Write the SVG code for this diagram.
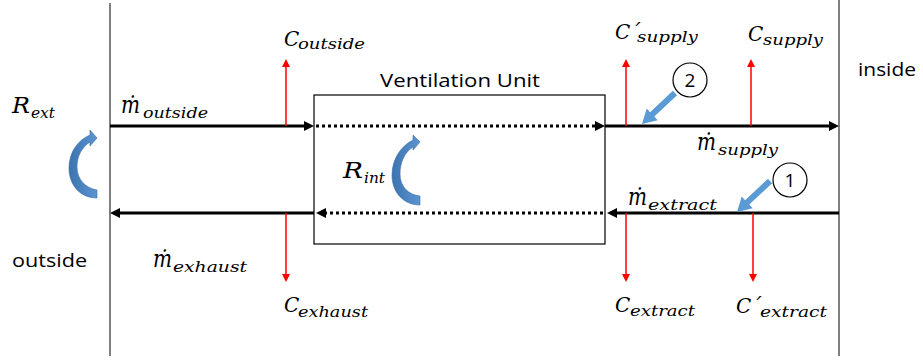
<svg xmlns="http://www.w3.org/2000/svg" width="923" height="360" viewBox="0 0 923 360">
<defs>
<style>
.frame{stroke:#000;stroke-width:1;fill:none}
.flow{stroke:#000;stroke-width:3;fill:none}
.dot{stroke:#000;stroke-width:3;fill:none;stroke-dasharray:3 3}
.conc{stroke:#ff0000;stroke-width:1.5;fill:none}
.m{font-family:"DejaVu Serif",serif;font-style:italic;font-size:20px;fill:#000}
.r{font-family:"DejaVu Serif",serif;font-style:italic;font-size:22px;fill:#000}
.md{font-family:"DejaVu Serif",serif;font-style:italic;font-size:24px;fill:#000}
.s{font-family:"DejaVu Serif",serif;font-style:italic;font-size:15px;fill:#000}
.t{font-family:"Open Sans","Liberation Sans",sans-serif;font-size:19px;fill:#000}
.blue{fill:#5b9bd5}
.curve{fill:url(#cg);stroke:#3a6fa6;stroke-width:0.6}
.circ{fill:#fff;stroke:#000;stroke-width:1.2}
</style>
<linearGradient id="cg" x1="0" y1="0" x2="1" y2="0">
<stop offset="0" stop-color="#3c73b0"/>
<stop offset="1" stop-color="#5b95d0"/>
</linearGradient>
<marker id="ah" markerUnits="userSpaceOnUse" markerWidth="10" markerHeight="10" refX="2" refY="5" orient="auto">
<path d="M0,0 L10,5 L0,10 z" fill="#000"/>
</marker>
<marker id="rh" markerUnits="userSpaceOnUse" markerWidth="8" markerHeight="8" refX="1" refY="4" orient="auto">
<path d="M0,0 L8,4 L0,8 z" fill="#ff0000"/>
</marker>
</defs>
<rect width="923" height="360" fill="#fff"/>

<g id="boundaries">
<line class="frame" x1="110" y1="3" x2="110" y2="356"/>
<line class="frame" x1="839" y1="0" x2="839" y2="356"/>
</g>

<g id="ventilation-unit">
<rect x="314" y="95" width="291" height="149" fill="#fff" stroke="#000" stroke-width="1.2"/>
<text class="t" x="460" y="87" text-anchor="middle" textLength="160" lengthAdjust="spacingAndGlyphs">Ventilation Unit</text>
</g>

<g id="connectors">
<line class="flow" x1="110" y1="126" x2="306" y2="126" marker-end="url(#ah)"/>
<line class="dot" x1="316" y1="126" x2="597" y2="126" marker-end="url(#ah)"/>
<line class="flow" x1="605" y1="126" x2="831" y2="126" marker-end="url(#ah)"/>
<line class="flow" x1="839" y1="213" x2="615" y2="213" marker-end="url(#ah)"/>
<line class="dot" x1="603" y1="213" x2="324" y2="213" marker-end="url(#ah)"/>
<line class="flow" x1="314" y1="213" x2="118" y2="213" marker-end="url(#ah)"/>
<line class="conc" x1="286" y1="126" x2="286" y2="66" marker-end="url(#rh)"/>
<line class="conc" x1="626" y1="126" x2="626" y2="66" marker-end="url(#rh)"/>
<line class="conc" x1="751" y1="126" x2="751" y2="66" marker-end="url(#rh)"/>
<line class="conc" x1="286" y1="213" x2="286" y2="275" marker-end="url(#rh)"/>
<line class="conc" x1="626" y1="213" x2="626" y2="275" marker-end="url(#rh)"/>
<line class="conc" x1="753" y1="213" x2="753" y2="275" marker-end="url(#rh)"/>
</g>

<g id="labels">
<text class="t" x="858" y="76" textLength="58" lengthAdjust="spacingAndGlyphs">inside</text>
<text class="t" x="12" y="267" textLength="75" lengthAdjust="spacingAndGlyphs">outside</text>

<text class="r" x="12" y="113" textLength="18" lengthAdjust="spacingAndGlyphs">R</text><text class="s" x="31" y="118" textLength="24" lengthAdjust="spacingAndGlyphs">ext</text>
<text class="r" x="343" y="178" textLength="20" lengthAdjust="spacingAndGlyphs">R</text><text class="s" x="364" y="183" textLength="21" lengthAdjust="spacingAndGlyphs">int</text>

<text class="md" x="121" y="113" textLength="19" lengthAdjust="spacingAndGlyphs">m&#x307;</text><text class="s" x="143" y="118" textLength="65" lengthAdjust="spacingAndGlyphs">outside</text>
<text class="md" x="697" y="150" textLength="19" lengthAdjust="spacingAndGlyphs">m&#x307;</text><text class="s" x="718" y="155" textLength="60" lengthAdjust="spacingAndGlyphs">supply</text>
<text class="md" x="628" y="205" textLength="19" lengthAdjust="spacingAndGlyphs">m&#x307;</text><text class="s" x="648" y="210" textLength="69" lengthAdjust="spacingAndGlyphs">extract</text>
<text class="md" x="153" y="267" textLength="19" lengthAdjust="spacingAndGlyphs">m&#x307;</text><text class="s" x="173" y="272" textLength="74" lengthAdjust="spacingAndGlyphs">exhaust</text>

<text class="m" x="284" y="46">C</text><text class="s" x="298" y="49" textLength="67" lengthAdjust="spacingAndGlyphs">outside</text>
<text class="m" x="615" y="39">C´</text><text class="s" x="637" y="42" textLength="61" lengthAdjust="spacingAndGlyphs">supply</text>
<text class="m" x="748" y="41">C</text><text class="s" x="763" y="45" textLength="60" lengthAdjust="spacingAndGlyphs">supply</text>
<text class="m" x="284" y="312">C</text><text class="s" x="298" y="317" textLength="70" lengthAdjust="spacingAndGlyphs">exhaust</text>
<text class="m" x="615" y="312">C</text><text class="s" x="630" y="316" textLength="65" lengthAdjust="spacingAndGlyphs">extract</text>
<text class="m" x="736" y="313">C´</text><text class="s" x="760" y="317" textLength="67" lengthAdjust="spacingAndGlyphs">extract</text>
</g>

<g id="recirculation-ext">
<path class="curve" d="M97,198 C80,198 69,185 69,168 C69,152 78,140 90,135 L90,130 L97,138 L90,146 L90,142 C82,147 77,156 77,167 C77,180 86,188 97,190 Z"/>
</g>
<g id="recirculation-int">
<path class="curve" d="M420,205 C404,205 392,193 392,175 C392,159 401,146 413,140 L413,135 L420,142 L413,150 L413,147 C405,152 400,162 400,174 C400,187 409,195 420,196 Z"/>
</g>

<g id="point-2">
<circle class="circ" cx="690" cy="80" r="17"/>
<text class="t" x="690" y="87" text-anchor="middle">2</text>
<polygon class="blue" points="672.9,90.8 677.1,95.2 654.3,116.6 657.7,120.2 642,124 646.7,108.6 650.1,112.2"/>
</g>
<g id="point-1">
<circle class="circ" cx="790" cy="180" r="17"/>
<text class="t" x="790" y="187" text-anchor="middle">1</text>
<polygon class="blue" points="767.9,178.8 772.1,183.2 749.3,204.6 752.7,208.2 737,212 741.7,196.6 745.1,200.2"/>
</g>
</svg>
